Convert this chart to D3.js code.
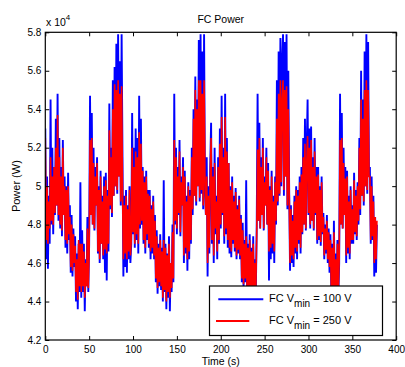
<!DOCTYPE html>
<html><head><meta charset="utf-8">
<script src="https://cdn.jsdelivr.net/npm/d3@7"></script>
<style>
html,body{margin:0;padding:0;background:#fff;}
svg{display:block;font-family:"Liberation Sans",Arial,sans-serif;}
</style></head>
<body>
<svg id="chart" width="405" height="367"></svg>
<script>
// Power values in units of 10^4 W, one sample per second starting at t = 0 s
const powerVmin100 = [
5.30,4.62,5.05,4.57,4.95,4.70, 5.45,4.80,5.20,4.75,5.10, 4.85,5.35,4.90,5.48,4.82,5.25,
4.78,5.10,4.74,5.24,4.85,5.05, 4.68,5.00,4.65,5.07,4.72, 4.90,4.55,4.85,4.53,4.78,4.58,
4.74,4.40,4.65,4.36, 4.70,4.45,5.02,4.42, 4.77,4.45,4.70,4.35,4.62, 4.48,4.84,4.45,4.70,
5.47, 4.85,5.38,4.80,5.20,4.77,5.10,4.90, 5.15,4.65,5.00,4.60,5.08,4.70,4.95,4.62,5.05,
4.55,5.07,4.51,4.98,4.66, 5.43,4.88,5.20,4.84,5.55,4.95,5.62,5.00, 5.74,4.96,5.79,5.05,5.65,4.90,5.79,
5.15,4.53,4.95, 4.58,4.98,4.55,4.90,4.62,5.00,4.60, 4.70,5.38,4.75,5.20,4.68,5.30,
4.72,5.25,4.65,5.47,4.78,5.35,4.80, 5.10,4.70,5.05,4.65,5.08,4.72,4.98,4.68,
4.98,4.62,4.90,4.65,4.95,4.62,4.85, 4.50,4.77,4.44,4.70,4.48,4.75,4.46,4.68,
4.40,5.03,4.45, 4.70,4.36,4.65,4.42,4.74,4.35,4.60,4.45,4.80, 4.50,5.48,
4.80,5.20,4.75,5.10,4.85,5.24,4.74,5.05,4.90,5.15, 4.60,5.08,4.65,4.95,4.56,5.02,4.62,4.98,4.70,
5.20,4.85,5.40,4.95,5.57,4.90,5.45,5.00,5.76,4.92, 5.79,4.96,5.70,4.88,5.79,5.00,
4.85,5.15,4.53,5.00,4.65,5.10, 5.33,4.70,5.10,4.60,5.20,4.75,4.95,4.62,5.15,4.70,5.30,
4.78,5.47,4.85,5.20,4.70,5.48,4.75,5.25,4.68, 5.12,4.65,5.00,4.63,5.05,4.70,4.95,4.66,
4.99,4.62,4.90,4.65,4.95,4.62,4.85, 4.50,4.81,4.47,4.72,4.50,5.03,4.45,4.70,
4.40,4.75,4.36,4.68,4.42,4.74,4.35,4.62,4.45,4.80, 5.48,
4.82,5.33,4.78,5.15,4.85,5.25,4.77,5.05,4.90,5.20,4.80, 5.12,4.51,5.00,4.62,5.08,4.65,4.95,4.60,5.05,
4.80,5.55,4.90,5.70,4.95,5.77,5.00,5.65, 5.79,4.95,5.75,5.05,5.79,4.88,5.60,4.98,
4.56,4.90,4.60,4.85,4.58,4.95,4.65,5.00, 4.62,4.98,4.70,5.05,4.65,5.10,4.75,
5.25,4.80,5.35,4.77,5.20,5.45,4.85,5.30, 4.78,5.31,4.82,5.15,4.77,5.25,4.85,5.10,
4.70,5.10,4.72,5.00,4.69,5.05,4.75, 4.86,4.62,4.80,4.65,4.85,4.60,4.78,4.55,
4.75,4.45,4.70,4.38,4.82,4.40,4.65,4.36,4.72,4.42, 4.60,5.48,
4.80,5.38,4.78,5.20,4.85,5.10, 4.60,5.08,4.65,4.95,4.62,5.00,4.70,4.90,
4.70,5.07,4.75,4.98,4.72,5.02,4.80, 5.25,4.85,5.60,4.95,5.45,4.90,
5.70,5.00,5.79,4.96,5.75,5.05, 5.10,4.70,5.05,4.72,4.95, 4.53,4.84,4.55,4.80
];
const powerVmin250 = [
5.25,4.72,5.00,4.70,4.92,4.78, 5.15,4.82,5.05,4.80,5.10, 4.86,5.20,4.90,5.37,4.85,5.15,
4.80,5.05,4.77,5.20,4.85,5.00, 4.72,4.98,4.70,5.00,4.75, 4.84,4.58,4.80,4.56,4.75,4.60,
4.69,4.45,4.62,4.41, 4.72,4.48,4.70,4.45, 4.70,4.48,4.66,4.42,4.60, 4.48,4.78,4.47,4.68,
5.24, 4.85,5.25,4.80,5.12,4.78,5.05,4.90, 5.12,4.66,4.98,4.62,5.05,4.70,4.92,4.64,5.00,
4.67,5.03,4.65,4.95,4.70, 5.29,4.90,5.15,4.86,5.40,4.95,5.53,5.00, 5.50,4.98,5.55,5.05,5.48,4.92,5.52,
5.00,4.62,4.90, 4.65,4.95,4.62,4.88,4.66,4.98,4.64, 4.72,5.20,4.76,5.10,4.70,5.18,
4.75,5.15,4.70,5.28,4.80,5.22,4.82, 5.08,4.72,5.02,4.68,5.05,4.75,4.96,4.70,
4.95,4.66,4.88,4.68,4.92,4.64,4.82, 4.52,4.74,4.47,4.68,4.50,4.72,4.48,4.66,
4.42,4.72,4.46, 4.68,4.40,4.64,4.45,4.70,4.42,4.60,4.47,4.76, 4.52,5.24,
4.82,5.15,4.78,5.05,4.86,5.18,4.76,5.02,4.90,5.10, 4.64,5.05,4.68,4.92,4.62,5.00,4.66,4.95,4.72,
5.15,4.88,5.35,4.95,5.50,4.92,5.40,5.00,5.55,4.94, 5.55,4.98,5.48,4.90,5.55,5.02,
4.85,5.05,4.60,4.95,4.68,5.05, 5.25,4.72,5.05,4.64,5.12,4.78,4.92,4.66,5.10,4.72,5.22,
4.80,5.36,4.86,5.15,4.74,5.36,4.78,5.18,4.72, 5.12,4.68,4.98,4.66,5.02,4.72,4.92,4.68,
4.97,4.64,4.88,4.67,4.93,4.64,4.83, 4.52,4.77,4.49,4.70,4.52,4.74,4.47,4.68,
4.44,4.72,4.40,4.66,4.45,4.70,4.41,4.60,4.47,4.75, 5.19,
4.82,5.25,4.78,5.10,4.85,5.20,4.78,5.02,4.90,5.15,4.80, 5.08,4.66,4.98,4.68,5.05,4.70,4.92,4.66,5.02,
4.82,5.35,4.92,5.48,4.96,5.55,5.02,5.45, 5.55,4.98,5.50,5.05,5.52,4.90,5.40,4.98,
4.60,4.88,4.64,4.82,4.62,4.92,4.68,4.98, 4.66,4.95,4.72,5.02,4.68,5.06,4.76,
5.15,4.80,5.22,4.78,5.12,5.26,4.86,5.20, 4.80,5.24,4.82,5.10,4.78,5.18,4.86,5.05,
4.72,5.06,4.74,4.98,4.71,5.02,4.76, 4.84,4.64,4.78,4.67,4.82,4.62,4.76,4.58,
4.72,4.48,4.68,4.42,4.76,4.44,4.62,4.40,4.70,4.46, 4.62,5.24,
4.80,5.25,4.78,5.12,4.85,5.04, 4.64,5.05,4.68,4.92,4.65,4.98,4.72,4.88,
4.72,5.03,4.76,4.95,4.74,5.00,4.82, 5.20,4.88,5.45,4.95,5.35,4.92,
5.50,5.00,5.55,4.98,5.50,5.05, 5.05,4.72,5.00,4.74,4.92, 4.60,4.84,4.62,4.82
];
const xTicks = [0,50,100,150,200,250,300,350,400];
const yTicks = [4.2,4.4,4.6,4.8,5,5.2,5.4,5.6,5.8];
const seriesNames = ["FC V|min|= 100 V","FC V|min|= 250 V"];
const seriesColors = ["#0000ff","#ff0000"];

const L = 45.3, R = 396.2, T = 32.3, B = 340;
const svg = d3.select("#chart");
const x = d3.scaleLinear().domain([0,400]).range([L,R]);
const y = d3.scaleLinear().domain([4.2,5.8]).range([B,T]);

svg.append("defs").append("clipPath").attr("id","clip")
  .append("rect").attr("x",L).attr("y",T).attr("width",R-L).attr("height",B-T);

const line = d3.line().x((d,i)=>x(i)).y(d=>y(d));
const plot = svg.append("g").attr("clip-path","url(#clip)");
const widths = [1.9,1.6];
[powerVmin100, powerVmin250].forEach((s,k)=>{
  plot.append("path").datum(s).attr("d",line)
    .attr("fill","none").attr("stroke",seriesColors[k])
    .attr("stroke-width",widths[k]).attr("stroke-linejoin","miter");
});

function styleAxis(g){
  g.select(".domain").remove();
  g.selectAll(".tick line").attr("stroke","#000").attr("stroke-width",1);
  g.selectAll("text").attr("fill","#000").style("font-size","10px")
   .style("font-family","'Liberation Sans',Arial,sans-serif");
}
svg.append("g").attr("transform",`translate(0,${B})`)
  .call(d3.axisBottom(x).tickValues(xTicks).tickSize(-4).tickPadding(6).tickFormat(d=>String(d)))
  .call(styleAxis);
svg.append("g").attr("transform",`translate(0,${T})`)
  .call(d3.axisTop(x).tickValues(xTicks).tickSize(-4).tickFormat(""))
  .call(styleAxis);
svg.append("g").attr("transform",`translate(${L},0)`)
  .call(d3.axisLeft(y).tickValues(yTicks).tickSize(-4).tickPadding(4).tickFormat(d=>String(d)))
  .call(styleAxis);
svg.append("g").attr("transform",`translate(${R},0)`)
  .call(d3.axisRight(y).tickValues(yTicks).tickSize(-4).tickFormat(""))
  .call(styleAxis);

svg.append("rect").attr("x",L).attr("y",T).attr("width",R-L).attr("height",B-T)
  .attr("fill","none").attr("stroke","#000").attr("stroke-width",1.2);

// title and labels
svg.append("text").attr("x",(L+R)/2).attr("y",23).attr("text-anchor","middle")
  .style("font-size","10.5px").text("FC Power");
const ex = svg.append("text").attr("x",46).attr("y",26).style("font-size","10.5px");
ex.append("tspan").text("x 10");
ex.append("tspan").attr("dy",-6).style("font-size","8px").text("4");
svg.append("text").attr("transform",`translate(20,${(T+B)/2}) rotate(-90)`)
  .attr("text-anchor","middle").style("font-size","11px").text("Power (W)");
svg.append("text").attr("x",(L+R)/2).attr("y",365).attr("text-anchor","middle")
  .style("font-size","10.5px").text("Time (s)");

// legend
const lg = svg.append("g");
lg.append("rect").attr("x",209.5).attr("y",286).attr("width",173).attr("height",49.5)
  .attr("fill","#fff").attr("stroke","#000").attr("stroke-width",1.2);
const legLines = [[218.3,263.3,299.3],[216,249.3,321]];
const legText = [302,324];
seriesNames.forEach((n,k)=>{
  const parts = n.split("|");
  lg.append("line").attr("x1",legLines[k][0]).attr("x2",legLines[k][1])
    .attr("y1",legLines[k][2]).attr("y2",legLines[k][2])
    .attr("stroke",seriesColors[k]).attr("stroke-width",2);
  const t = lg.append("text").attr("x",269).attr("y",legText[k]).style("font-size","11px");
  t.append("tspan").text(parts[0]);
  t.append("tspan").attr("dy",4.5).style("font-size","10px").text(parts[1]);
  t.append("tspan").attr("dy",-4.5).text(" " + parts[2]);
});
</script>
</body></html>
